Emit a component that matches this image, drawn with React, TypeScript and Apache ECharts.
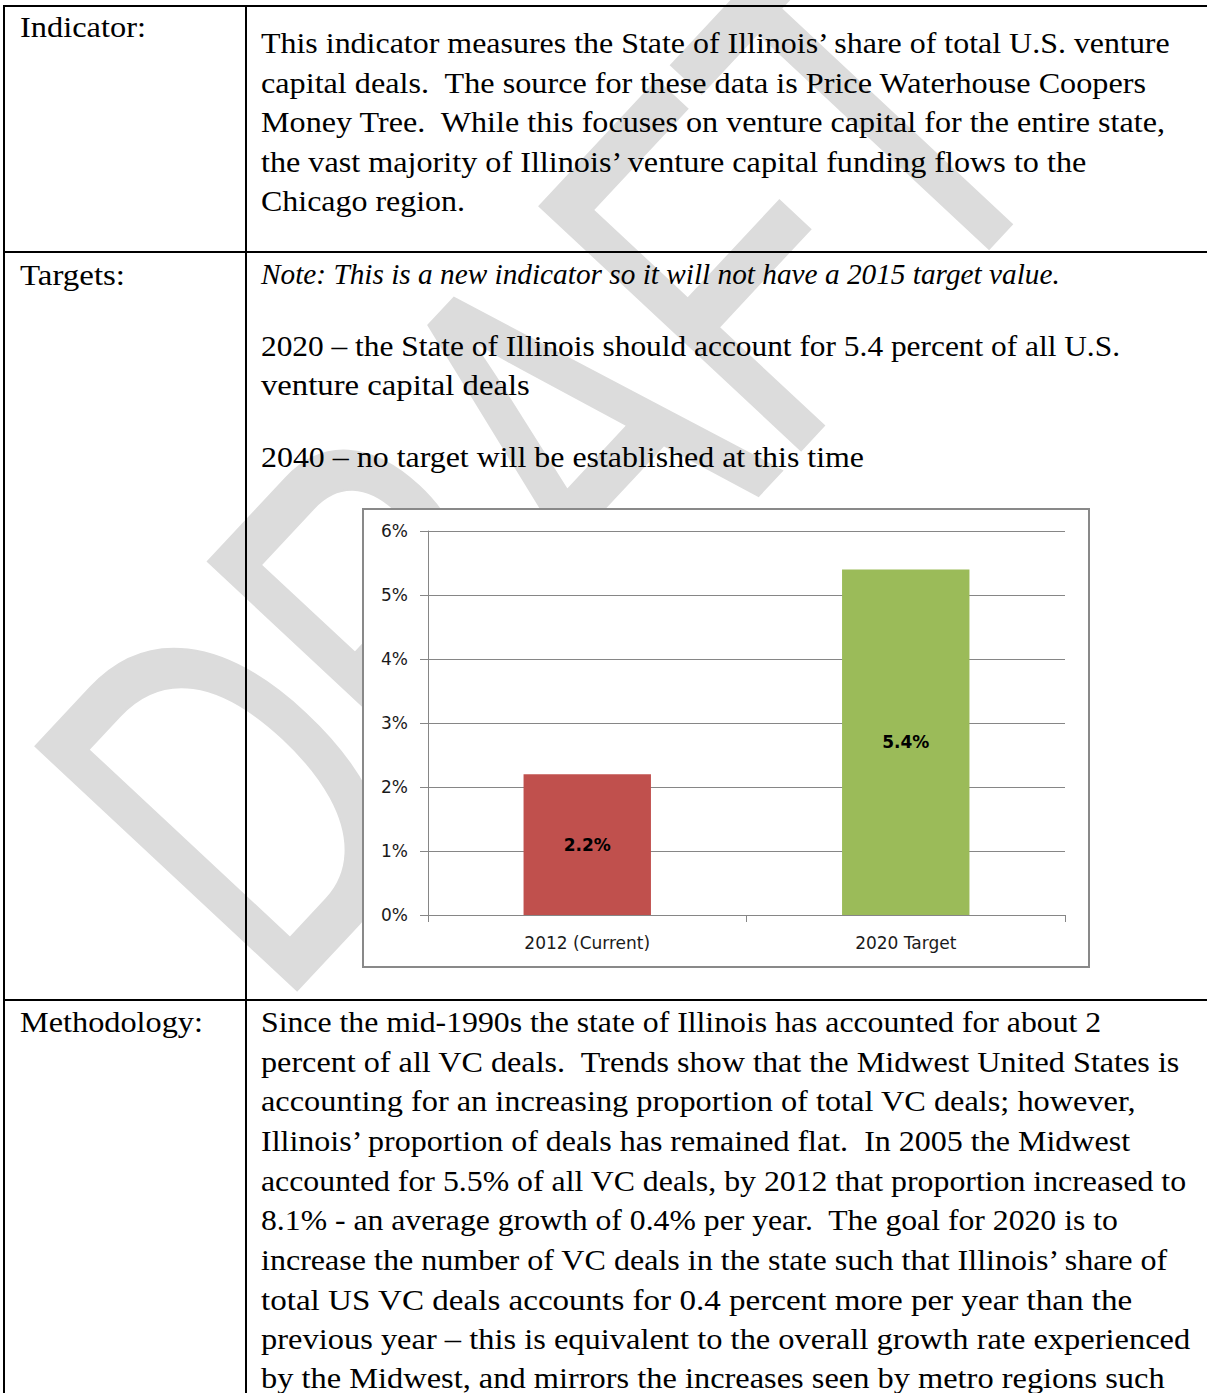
import React, { useEffect, useRef } from "react";
import * as echarts from "echarts";

// ---- chart data ----
const categories = ["2012 (Current)", "2020 Target"];
const shareValues = [2.2, 5.4];
const barColors = ["#c0504d", "#9bbb59"];
const yMin = 0;
const yMax = 6;
const yStep = 1;

// ---- document text ----
const rowLabels = ["Indicator:", "Targets:", "Methodology:"];
const indicatorLines = [
  "This indicator measures the State of Illinois\u2019 share of total U.S. venture",
  "capital deals.  The source for these data is Price Waterhouse Coopers",
  "Money Tree.  While this focuses on venture capital for the entire state,",
  "the vast majority of Illinois\u2019 venture capital funding flows to the",
  "Chicago region.",
];
const targetNote = "Note: This is a new indicator so it will not have a 2015 target value.";
const targetLines = [
  "2020 \u2013 the State of Illinois should account for 5.4 percent of all U.S.",
  "venture capital deals",
  "2040 \u2013 no target will be established at this time",
];
const methodologyLines = [
  "Since the mid-1990s the state of Illinois has accounted for about 2",
  "percent of all VC deals.  Trends show that the Midwest United States is",
  "accounting for an increasing proportion of total VC deals; however,",
  "Illinois\u2019 proportion of deals has remained flat.  In 2005 the Midwest",
  "accounted for 5.5% of all VC deals, by 2012 that proportion increased to",
  "8.1% - an average growth of 0.4% per year.  The goal for 2020 is to",
  "increase the number of VC deals in the state such that Illinois\u2019 share of",
  "total US VC deals accounts for 0.4 percent more per year than the",
  "previous year \u2013 this is equivalent to the overall growth rate experienced",
  "by the Midwest, and mirrors the increases seen by metro regions such",
];
const watermarkText = "DRAFT";

// ---- layout (positions of text lines: left x, middle y, right x) ----
const labelLayout = [
  [20, 27, 146],
  [20, 275, 125],
  [20, 1022, 203],
];
const indicatorLayout = [
  [261, 43, 1172],
  [261, 83, 1148],
  [261, 122, 1166],
  [261, 162, 1089],
  [261, 201, 465],
];
const noteLayout = [261, 274, 1060];
const targetLayout = [
  [261, 346, 1120],
  [261, 385, 530],
  [261, 457, 864],
];
const methodologyLayout = [
  [261, 1022, 1102],
  [261, 1062, 1181],
  [261, 1101, 1136],
  [261, 1141, 1133],
  [261, 1181, 1187],
  [261, 1220, 1119],
  [261, 1260, 1170],
  [261, 1300, 1133],
  [261, 1339, 1190],
  [261, 1378, 1165],
];

const SERIF = '"Liberation Serif", "Times New Roman", serif';
const SANS = '"DejaVu Sans", Verdana, sans-serif';
const BODY_PX = 30;

function makeMeasurer() {
  const c = document.createElement("canvas");
  const ctx = c.getContext("2d");
  return (text: string, font: string) => {
    if (!ctx) return 1;
    ctx.font = font;
    return ctx.measureText(text).width || 1;
  };
}

export default function App() {
  const ref = useRef<HTMLDivElement>(null);

  useEffect(() => {
    document.body.style.margin = "0";
    if (!ref.current) return;
    const chart = echarts.init(ref.current, undefined, { renderer: "svg" });
    const measure = makeMeasurer();

    const textEl = (text: string, lay: number[], italic = false) => {
      const font = `${italic ? "italic " : ""}${BODY_PX}px ${SERIF}`;
      const w = measure(text, font);
      const sx = (lay[2] - lay[0]) / w;
      return {
        type: "text",
        x: lay[0],
        y: lay[1],
        scaleX: sx,
        z: 5,
        silent: true,
        style: {
          text,
          font,
          fill: "#000",
          textAlign: "left",
          textVerticalAlign: "middle",
          align: "left",
          verticalAlign: "middle",
        },
      };
    };

    const hLine = (y: number) => ({
      type: "line",
      z: 6,
      silent: true,
      shape: { x1: 3, y1: y, x2: 1207, y2: y },
      style: { stroke: "#000", lineWidth: 2 },
    });
    const vLine = (x: number) => ({
      type: "line",
      z: 6,
      silent: true,
      shape: { x1: x, y1: 5, x2: x, y2: 1393 },
      style: { stroke: "#000", lineWidth: 2 },
    });

    const graphics: any[] = [
      // watermark
      {
        type: "text",
        x: 146,
        y: 888,
        rotation: (47 * Math.PI) / 180,
        scaleX: 1,
        scaleY: 1.476,
        z: -10,
        silent: true,
        style: {
          text: watermarkText,
          font: `350px "Liberation Sans", Arial, sans-serif`,
          fill: "#dcdcdc",
          stroke: "#dcdcdc",
          lineWidth: 3,
          lineJoin: "round",
          textAlign: "left",
          textVerticalAlign: "middle",
          align: "left",
          verticalAlign: "middle",
        },
      },
      // chart frame
      {
        type: "rect",
        z: -5,
        silent: true,
        shape: { x: 363, y: 509, width: 726, height: 458 },
        style: { fill: "#ffffff", stroke: "#898989", lineWidth: 2 },
      },
      hLine(6),
      hLine(252),
      hLine(1000),
      vLine(4),
      vLine(246),
    ];

    rowLabels.forEach((t, i) => graphics.push(textEl(t, labelLayout[i])));
    indicatorLines.forEach((t, i) => graphics.push(textEl(t, indicatorLayout[i])));
    graphics.push(textEl(targetNote, noteLayout, true));
    targetLines.forEach((t, i) => graphics.push(textEl(t, targetLayout[i])));
    methodologyLines.forEach((t, i) => graphics.push(textEl(t, methodologyLayout[i])));

    const axisColor = "#868686";

    chart.setOption({
      animation: false,
      backgroundColor: "#ffffff",
      graphic: { elements: graphics },
      grid: { left: 428, right: 142, top: 531, bottom: 478, containLabel: false },
      xAxis: {
        type: "category",
        data: categories,
        axisLine: { show: true, lineStyle: { color: axisColor, width: 1 } },
        axisTick: { show: true, length: 7, alignWithLabel: false, lineStyle: { color: axisColor } },
        axisLabel: {
          margin: 19,
          fontFamily: SANS,
          fontSize: 17,
          color: "#1a1a1a",
          interval: 0,
        },
        splitLine: { show: false },
      },
      yAxis: {
        type: "value",
        min: yMin,
        max: yMax,
        interval: yStep,
        axisLine: { show: true, lineStyle: { color: axisColor, width: 1 } },
        axisTick: { show: true, length: 8, lineStyle: { color: axisColor } },
        axisLabel: {
          formatter: "{value}%",
          margin: 20,
          fontFamily: SANS,
          fontSize: 17,
          color: "#1a1a1a",
        },
        splitLine: { show: true, lineStyle: { color: axisColor, width: 1 } },
      },
      series: [
        {
          type: "bar",
          barWidth: "40%",
          data: shareValues.map((v, i) => ({ value: v, itemStyle: { color: barColors[i] } })),
          label: {
            show: true,
            position: "inside",
            formatter: (p: any) => `${Number(p.value).toFixed(1)}%`,
            fontFamily: SANS,
            fontSize: 17,
            fontWeight: "bold",
            color: "#000",
          },
        },
      ],
    });

    return () => chart.dispose();
  }, []);

  return (
    <div
      ref={ref}
      style={{ position: "absolute", left: 0, top: 0, width: 1207, height: 1393, background: "#fff" }}
    />
  );
}
